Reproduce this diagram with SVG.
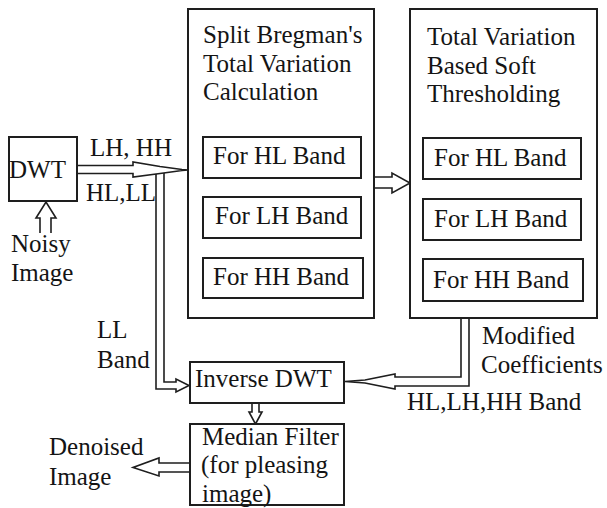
<svg xmlns="http://www.w3.org/2000/svg" width="607" height="508" viewBox="0 0 607 508">
<style>
text{font-family:'Liberation Serif','Tinos','Times New Roman','DejaVu Serif',serif;font-size:25px;fill:#141414}
.box{fill:#fff;stroke:#1e1e1e;stroke-width:2}
.ar{fill:#fff;stroke:#1e1e1e;stroke-width:1.6;stroke-linejoin:miter}
.ln{fill:none;stroke:#1e1e1e;stroke-width:1.6}
</style>
<rect width="607" height="508" fill="#fff"/>
<g id="connectors">
<path class="ar" d="M77,165.5 H133 V162 L160,166.5 L182,169.5 L188,170 L182,170.5 L160,173.5 L133,177 V173.5 H77 Z"/>
<path class="ln" d="M164,173 V382 H176 V379 L189,385.5 L176,392 V389 H156 V174"/>
<path class="ar" d="M374,177 H392 V173 L410,183 L392,193 V188 H374 Z"/>
<path class="ln" d="M461,318 V377 H395 V374 L365,380 L345,381.5 L365,383 L395,389 V386 H469 V318"/>
<path class="ar" d="M252,403 V412 H249 L255.5,424 L262,412 H259 V403 Z"/>
<path class="ar" d="M190,463 H159 V458 L133,467.5 L159,476 V472 H190 Z"/>
<path class="ar" d="M40,233 V218 H36 L46,202 L56,218 H51 V233"/>
</g>
<g id="dwt">
<rect class="box" x="9" y="137" width="68" height="64"/>
<text x="9" y="178">DWT</text>
</g>
<g id="labels-input">
<text x="90" y="156">LH, HH</text>
<text x="86" y="201">HL,LL</text>
<text x="11" y="252">Noisy</text>
<text x="11" y="281">Image</text>
<text x="97" y="338">LL</text>
<text x="97" y="368">Band</text>
</g>
<g id="split-bregman">
<rect class="box" x="188" y="9" width="186" height="309"/>
<text x="203" y="43">Split Bregman's</text>
<text x="203" y="72">Total Variation</text>
<text x="203" y="100">Calculation</text>
<rect class="box" x="203" y="137" width="158" height="41"/>
<text x="213" y="164">For HL Band</text>
<rect class="box" x="203" y="197" width="158" height="41"/>
<text x="215" y="224">For LH Band</text>
<rect class="box" x="203" y="258" width="160" height="40"/>
<text x="213" y="285">For HH Band</text>
</g>
<g id="soft-threshold">
<rect class="box" x="410" y="9" width="187" height="309"/>
<text x="427" y="45">Total Variation</text>
<text x="427" y="74">Based Soft</text>
<text x="427" y="102">Thresholding</text>
<rect class="box" x="423" y="138" width="158" height="41"/>
<text x="434" y="166">For HL Band</text>
<rect class="box" x="423" y="199" width="158" height="41"/>
<text x="434" y="227">For LH Band</text>
<rect class="box" x="423" y="259" width="160" height="42"/>
<text x="433" y="288">For HH Band</text>
</g>
<g id="labels-output">
<text x="482" y="344">Modified</text>
<text x="481" y="373">Coefficients</text>
<text x="407" y="410">HL,LH,HH Band</text>
<text x="49" y="455">Denoised</text>
<text x="49" y="485">Image</text>
</g>
<g id="inverse-dwt">
<rect class="box" x="190" y="362" width="154" height="41"/>
<text x="195" y="387">Inverse DWT</text>
</g>
<g id="median-filter">
<rect class="box" x="190" y="424" width="154" height="81"/>
<text x="202" y="445">Median Filter</text>
<text x="201" y="473">(for pleasing</text>
<text x="202" y="502">image)</text>
</g>
</svg>
